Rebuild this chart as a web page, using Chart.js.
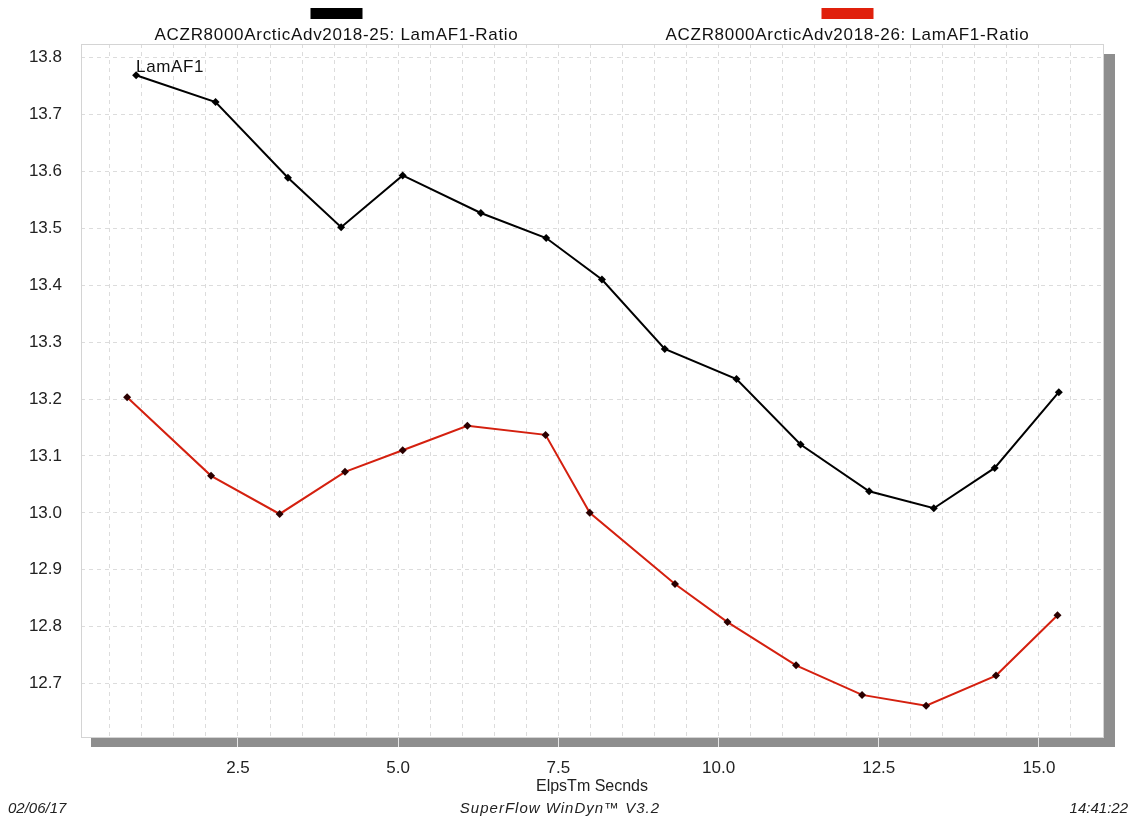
<!DOCTYPE html>
<html>
<head>
<meta charset="utf-8">
<script src="https://cdn.jsdelivr.net/npm/chart.js@4/dist/chart.umd.min.js"></script>
<style>
  html, body { margin: 0; padding: 0; background: #fff; }
  #wrap { width: 1135px; height: 822px; position: relative; }
</style>
</head>
<body>
<div id="wrap"><canvas id="graph"></canvas></div>
<script>
// run labels
var seriesLabels = ['ACZR8000ArcticAdv2018-25: LamAF1-Ratio', 'ACZR8000ArcticAdv2018-26: LamAF1-Ratio'];

// run 25 (black)
var run25Time = [0.91, 2.15, 3.28, 4.11, 5.07, 6.29, 7.31, 8.18, 9.16, 10.28, 11.28, 12.35, 13.36, 14.31, 15.31];
var run25Afr  = [13.769, 13.722, 13.589, 13.502, 13.593, 13.527, 13.483, 13.410, 13.288, 13.235, 13.120, 13.038, 13.008, 13.079, 13.212];

// run 26 (red)
var run26Time = [0.77, 2.08, 3.15, 4.17, 5.07, 6.08, 7.30, 7.99, 9.32, 10.14, 11.21, 12.24, 13.24, 14.33, 15.29];
var run26Afr  = [13.203, 13.065, 12.998, 13.072, 13.110, 13.153, 13.137, 13.000, 12.875, 12.808, 12.732, 12.680, 12.661, 12.714, 12.820];

// axis ticks
var xTickLabels = [2.5, 5.0, 7.5, 10.0, 12.5, 15.0];
var yTickLabels = [12.7, 12.8, 12.9, 13.0, 13.1, 13.2, 13.3, 13.4, 13.5, 13.6, 13.7, 13.8];

var axisTitle = 'ElpsTm Secnds';
var footerLeft = '02/06/17';
var footerMid = 'SuperFlow WinDyn\u2122 V3.2';
var footerRight = '14:41:22';
var pointTag = 'LamAF1';

var FONT = '"Liberation Sans", Arial, sans-serif';
var BLACK = '#000000';
var RED = '#d4200f';

function toPoints(xs, ys) {
    return xs.map(function(x, i) { return { x: x, y: ys[i] }; });
}

// grid every 0.5 s, labels only on the xTickLabels
var xGrid = [];
for (var g = 0.5; g <= 16.0001; g += 0.5) xGrid.push(Math.round(g * 10) / 10);

var frame = {
    id: 'frame',
    beforeDraw: function(chart) {
        var a = chart.chartArea, ctx = chart.ctx;
        ctx.save();
        ctx.fillStyle = '#8e8e8e';
        ctx.fillRect(a.left + 10, a.bottom, a.right - a.left + 2, 10);
        ctx.fillRect(a.right + 1, a.top + 10, 11, a.bottom - a.top);
        ctx.restore();
    },
    beforeDatasetsDraw: function(chart) {
        var a = chart.chartArea, ctx = chart.ctx;
        ctx.save();
        ctx.strokeStyle = '#d4d4d4';
        ctx.lineWidth = 1;
        ctx.strokeRect(a.left + 0.5, a.top + 0.5, a.right - a.left, a.bottom - a.top);
        ctx.restore();
    },
    afterDraw: function(chart) {
        var a = chart.chartArea, ctx = chart.ctx;
        var w = a.right - a.left;
        ctx.save();
        // legend: colour bar above each run name
        chart.data.datasets.forEach(function(ds, i) {
            var cx = a.left + w * (i === 0 ? 0.25 : 0.75);
            ctx.fillStyle = ds.legendColor;
            ctx.fillRect(cx - 26, 8, 52, 11);
            ctx.fillStyle = '#111';
            ctx.font = '17px ' + FONT;
            ctx.letterSpacing = '0.7px';
            ctx.textAlign = 'center';
            ctx.textBaseline = 'alphabetic';
            ctx.fillText(ds.label, cx, 40);
        });
        // tag at first point of run 25
        var p = chart.getDatasetMeta(0).data[0];
        ctx.font = '17px ' + FONT;
        ctx.letterSpacing = '0.6px';
        ctx.textAlign = 'left';
        ctx.fillStyle = '#111';
        ctx.fillText(pointTag, p.x, p.y - 3);
        // footer
        ctx.font = 'italic 15px ' + FONT;
        ctx.fillStyle = '#222';
        ctx.letterSpacing = '0px';
        ctx.fillText(footerLeft, 8, 813);
        ctx.textAlign = 'center';
        ctx.letterSpacing = '1px';
        ctx.fillText(footerMid, 560, 813);
        ctx.textAlign = 'right';
        ctx.letterSpacing = '0px';
        ctx.fillText(footerRight, 1128, 813);
        ctx.restore();
    }
};

var ctx = document.getElementById('graph').getContext('2d');
var chart = new Chart(ctx, {
    type: 'line',
    data: {
        datasets: [{
            label: seriesLabels[0],
            data: toPoints(run25Time, run25Afr),
            borderColor: BLACK,
            legendColor: BLACK,
            borderWidth: 2,
            pointStyle: 'rectRot',
            pointRadius: 4,
            pointBackgroundColor: '#000',
            pointBorderColor: '#000',
            pointBorderWidth: 0,
            tension: 0
        }, {
            label: seriesLabels[1],
            data: toPoints(run26Time, run26Afr),
            borderColor: RED,
            legendColor: '#e0200c',
            borderWidth: 2,
            pointStyle: 'rectRot',
            pointRadius: 4,
            pointBackgroundColor: '#2a0000',
            pointBorderColor: '#2a0000',
            pointBorderWidth: 0,
            tension: 0
        }]
    },
    options: {
        responsive: true,
        maintainAspectRatio: false,
        animation: false,
        layout: { padding: { top: 44, right: 32, bottom: 25, left: 0 } },
        plugins: {
            legend: { display: false },
            tooltip: { enabled: false }
        },
        scales: {
            x: {
                type: 'linear',
                min: 0.05,
                max: 16.0,
                afterBuildTicks: function(scale) {
                    scale.ticks = xGrid.map(function(v) { return { value: v }; });
                },
                afterFit: function(scale) { scale.height = 60; },
                grid: {
                    color: '#dcdcdc',
                    tickColor: function(c) {
                        return xTickLabels.indexOf(c.tick.value) >= 0 ? '#e6e6e6' : 'rgba(0,0,0,0)';
                    },
                    tickLength: 10,
                    drawTicks: true
                },
                border: { display: false, dash: [4, 4] },
                ticks: {
                    autoSkip: false,
                    maxRotation: 0,
                    padding: 11,
                    color: '#222',
                    font: { family: FONT, size: 17 },
                    callback: function(v) {
                        return xTickLabels.indexOf(v) >= 0 ? v.toFixed(1) : '';
                    }
                },
                title: {
                    display: true,
                    text: axisTitle,
                    color: '#222',
                    font: { family: FONT, size: 16 },
                    padding: { top: 0, bottom: 1 }
                }
            },
            y: {
                type: 'linear',
                min: 12.606,
                max: 13.824,
                afterBuildTicks: function(scale) {
                    scale.ticks = yTickLabels.map(function(v) { return { value: v }; });
                },
                afterFit: function(scale) { scale.width = 81; },
                border: { display: false, dash: [4, 4] },
                grid: {
                    color: '#dcdcdc',
                    drawTicks: false
                },
                ticks: {
                    padding: 19,
                    color: '#222',
                    font: { family: FONT, size: 17 },
                    callback: function(v) { return v.toFixed(1); }
                }
            }
        }
    },
    plugins: [frame]
});
</script>
</body>
</html>
